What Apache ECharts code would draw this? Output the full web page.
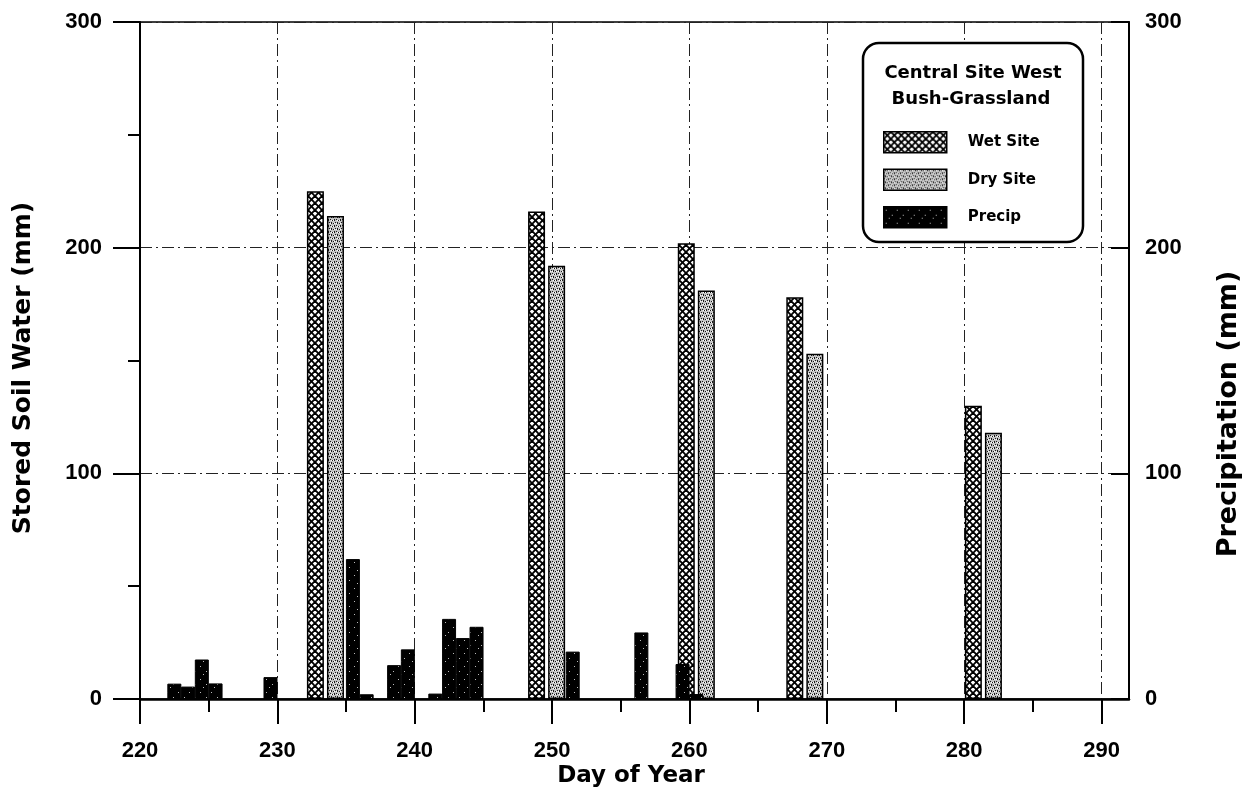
<!DOCTYPE html>
<html><head><meta charset="utf-8">
<script src="https://cdn.jsdelivr.net/npm/echarts@6/dist/echarts.min.js"></script>
<style>html,body{margin:0;padding:0;background:#fff}#c{width:1250px;height:796px}</style>
</head><body><div id="c"></div>
<script>
// ---- data ----
const sampleDays = [233.5, 249.6, 260.5, 268.4, 281.4];
const wetSite = [225, 216, 202, 178, 130];
const drySite = [214, 192, 181, 153, 118];
const precipDays = [222.5, 223.5, 224.5, 225.5, 229.5, 235.5, 236.5, 238.5, 239.5, 241.5, 242.5, 243.5, 244.5, 251.5, 256.5, 259.5, 260.5];
const precipValues = [6.8, 5.5, 17.5, 6.9, 9.7, 62, 2.1, 15, 22, 2.4, 35.5, 27, 32, 21, 29.5, 15.5, 2.2];
const xTickLabels = [220, 230, 240, 250, 260, 270, 280, 290];
const xMinorTicks = [225, 235, 245, 255, 265, 275, 285];
const yTickLabels = [0, 100, 200, 300];
const yMinorTicks = [50, 150, 250];
const seriesNames = ['Wet Site', 'Dry Site', 'Precip'];
const legendTitle = ['Central Site West', 'Bush-Grassland'];

// ---- fill patterns ----
function makeCanvas(w, h, draw) {
  const c = document.createElement('canvas'); c.width = w; c.height = h;
  draw(c.getContext('2d')); return c;
}
const wetTile = makeCanvas(7, 7, g => {
  g.fillStyle = '#fff'; g.fillRect(0, 0, 7, 7);
  g.strokeStyle = '#000'; g.lineWidth = 1.9;
  for (const o of [-7, 0, 7]) {
    g.beginPath(); g.moveTo(o - 1, -1); g.lineTo(o + 8, 8); g.stroke();
    g.beginPath(); g.moveTo(o + 8, -1); g.lineTo(o - 1, 8); g.stroke();
  }
});
const dryTile = makeCanvas(6, 6, g => {
  g.fillStyle = '#c4c4c4'; g.fillRect(0, 0, 6, 6);
  g.fillStyle = '#fff';
  [[0,1,1,1],[3,4,1,1],[4,1,1,1],[1,4,1,1]].forEach(r => g.fillRect(r[0], r[1], r[2], r[3]));
  g.fillStyle = '#1a1a1a';
  [[1,0,1,2],[4,3,1,2],[2,4,1,1],[5,0,1,1],[0,3,1,1],[3,1,1,1]].forEach(r => g.fillRect(r[0], r[1], r[2], r[3]));
});
const precipTile = makeCanvas(11, 13, g => {
  g.fillStyle = '#000'; g.fillRect(0, 0, 11, 13);
  g.fillStyle = '#bbb';
  [[2,3],[8,8],[5,11]].forEach(p => g.fillRect(p[0], p[1], 1, 1));
});

const FONT_TXT = 'DejaVu Sans';
const FONT_NUM = 'Liberation Sans';
const gridLine = { color: '#222', width: 1, type: [12, 4, 2, 4] };

const chart = echarts.init(document.getElementById('c'), null, { renderer: 'canvas' });
chart.setOption({
  animation: false,
  backgroundColor: '#fff',
  grid: { left: 140, right: 121, top: 22, bottom: 97, show: true, borderColor: '#000', borderWidth: 1.5, backgroundColor: 'transparent' },
  xAxis: [
    {
      type: 'value', min: 220, max: 292, interval: 10, position: 'bottom',
      axisLine: { show: true, onZero: false, lineStyle: { color: '#000', width: 2.5 } },
      axisTick: { show: true, customValues: xTickLabels, length: 25, lineStyle: { color: '#000', width: 2 } },
      axisLabel: { customValues: xTickLabels, margin: 41, fontFamily: FONT_NUM, fontWeight: 'bold', fontSize: 22, color: '#000' },
      splitLine: { show: true, lineStyle: gridLine }
    },
    {
      type: 'value', min: 220, max: 292, position: 'bottom',
      axisLine: { show: false, onZero: false },
      axisTick: { show: true, customValues: xMinorTicks, length: 13, lineStyle: { color: '#000', width: 2 } },
      axisLabel: { show: false },
      splitLine: { show: false }
    }
  ],
  yAxis: [
    {
      type: 'value', min: 0, max: 300, interval: 50, position: 'left',
      axisLine: { show: true, onZero: false, lineStyle: { color: '#000', width: 2 } },
      axisTick: { show: true, customValues: yTickLabels, length: 27, lineStyle: { color: '#000', width: 2 } },
      axisLabel: { customValues: yTickLabels, margin: 38, fontFamily: FONT_NUM, fontWeight: 'bold', fontSize: 22, color: '#000' },
      splitLine: { show: true, lineStyle: gridLine }
    },
    {
      type: 'value', min: 0, max: 300, position: 'left',
      axisLine: { show: false, onZero: false },
      axisTick: { show: true, customValues: yMinorTicks, length: 12, lineStyle: { color: '#000', width: 2 } },
      axisLabel: { show: false },
      splitLine: { show: false }
    },
    {
      type: 'value', min: 0, max: 300, interval: 50, position: 'right',
      axisLine: { show: true, onZero: false, lineStyle: { color: '#000', width: 2 } },
      axisTick: { show: true, inside: true, customValues: yTickLabels, length: 18, lineStyle: { color: '#000', width: 2 } },
      axisLabel: { customValues: yTickLabels, margin: 16, fontFamily: FONT_NUM, fontWeight: 'bold', fontSize: 22, color: '#000' },
      splitLine: { show: false }
    }
  ],
  legend: {
    orient: 'vertical', left: 883, top: 131, padding: 0, itemWidth: 63, itemHeight: 21, itemGap: 15,
    icon: 'rect', selectedMode: false, z: 10, data: seriesNames,
    itemStyle: { borderColor: '#000', borderWidth: 1.5 },
    textStyle: { fontFamily: FONT_TXT, fontWeight: 'bold', fontSize: 15, color: '#000', padding: [0, 0, 0, 16] }
  },
  graphic: [
    { type: 'rect', z: 5, shape: { x: 863, y: 43, width: 220, height: 199, r: 16 }, style: { fill: '#fff', stroke: '#000', lineWidth: 2.5 } },
    { type: 'text', z: 11, x: 973, y: 73, style: { text: legendTitle[0], fontFamily: FONT_TXT, fontWeight: 'bold', fontSize: 18, fill: '#000', align: 'center', verticalAlign: 'middle' } },
    { type: 'text', z: 11, x: 971, y: 99, style: { text: legendTitle[1], fontFamily: FONT_TXT, fontWeight: 'bold', fontSize: 18, fill: '#000', align: 'center', verticalAlign: 'middle' } },
    { type: 'text', z: 11, x: 23, y: 368, rotation: Math.PI / 2, style: { text: 'Stored Soil Water (mm)', fontFamily: FONT_TXT, fontWeight: 'bold', fontSize: 25, fill: '#000', align: 'center', verticalAlign: 'middle' } },
    { type: 'text', z: 11, x: 1229, y: 414, rotation: Math.PI / 2, style: { text: 'Precipitation (mm)', fontFamily: FONT_TXT, fontWeight: 'bold', fontSize: 27, fill: '#000', align: 'center', verticalAlign: 'middle' } },
    { type: 'text', z: 11, x: 631, y: 776, style: { text: 'Day of Year', fontFamily: FONT_TXT, fontWeight: 'bold', fontSize: 23, fill: '#000', align: 'center', verticalAlign: 'middle' } }
  ],
  series: [
    {
      name: seriesNames[0], type: 'bar', xAxisIndex: 0, yAxisIndex: 0, z: 3,
      data: sampleDays.map((d, i) => [d, wetSite[i]]), barWidth: 17, barGap: '18%',
      itemStyle: { color: { image: wetTile, repeat: 'repeat' }, borderColor: '#000', borderWidth: 1.5 }
    },
    {
      name: seriesNames[1], type: 'bar', xAxisIndex: 0, yAxisIndex: 0, z: 3,
      data: sampleDays.map((d, i) => [d, drySite[i]]), barWidth: 17, barGap: '18%',
      itemStyle: { color: { image: dryTile, repeat: 'repeat' }, borderColor: '#000', borderWidth: 1.5 }
    },
    {
      name: seriesNames[2], type: 'bar', xAxisIndex: 1, yAxisIndex: 2, z: 4,
      data: precipDays.map((d, i) => [d, precipValues[i]]), barWidth: 14,
      itemStyle: { color: { image: precipTile, repeat: 'repeat' }, borderColor: '#000', borderWidth: 1 }
    }
  ]
});
</script></body></html>
